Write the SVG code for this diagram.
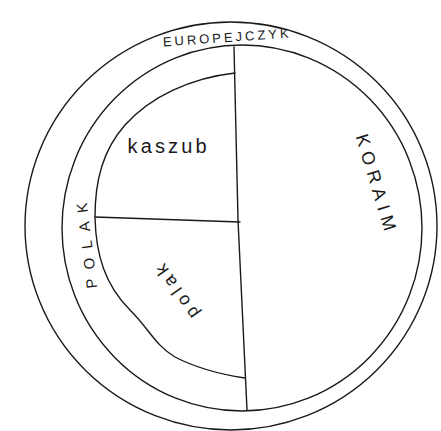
<svg xmlns="http://www.w3.org/2000/svg" width="441" height="431" viewBox="0 0 441 431">
<style>
.ln{fill:none;stroke:#1a1a1a;stroke-width:1.4;stroke-linecap:round;stroke-linejoin:round}
.t{font-family:"Liberation Sans",Arial,sans-serif;fill:#1a1a1a}
</style>
<rect width="441" height="431" fill="#ffffff"/>
<g id="europejczyk">
<ellipse class="ln" cx="231" cy="226" rx="206" ry="204"/>
<text class="t" x="0" y="0" font-size="13" text-anchor="middle" textLength="126" lengthAdjust="spacing" transform="translate(226,42) rotate(-4)">EUROPEJCZYK</text>
</g>
<g id="karaim">
<ellipse class="ln" cx="242" cy="228" rx="180" ry="183"/>
<text class="t" x="0" y="0" font-size="18" text-anchor="middle" textLength="100" lengthAdjust="spacing" transform="translate(370,184) rotate(73)">KORAIM</text>
</g>
<g id="polak-outer">
<text class="t" x="0" y="0" font-size="15" text-anchor="middle" textLength="86" lengthAdjust="spacing" transform="translate(92,245) rotate(-97)">POLAK</text>
</g>
<g id="kaszub">
<path class="ln" d="M235,73 C190,78 150,97 125,125 C103,150 95,180 95,217"/>
<text class="t" x="167" y="153" font-size="20" text-anchor="middle" textLength="79" lengthAdjust="spacing">kaszub</text>
</g>
<g id="polak-inner">
<path class="ln" d="M95,218 C96,255 105,285 130,310 C150,330 155,345 175,357 C200,370 225,375 245,378"/>
<text class="t" x="0" y="0" font-size="18" text-anchor="middle" textLength="62" lengthAdjust="spacing" transform="translate(182,288) rotate(-125)">polak</text>
</g>
<g id="connectors">
<path class="ln" d="M234,47 L238,220 L247,410"/>
<path class="ln" d="M95,217 L240,222"/>
</g>
</svg>
